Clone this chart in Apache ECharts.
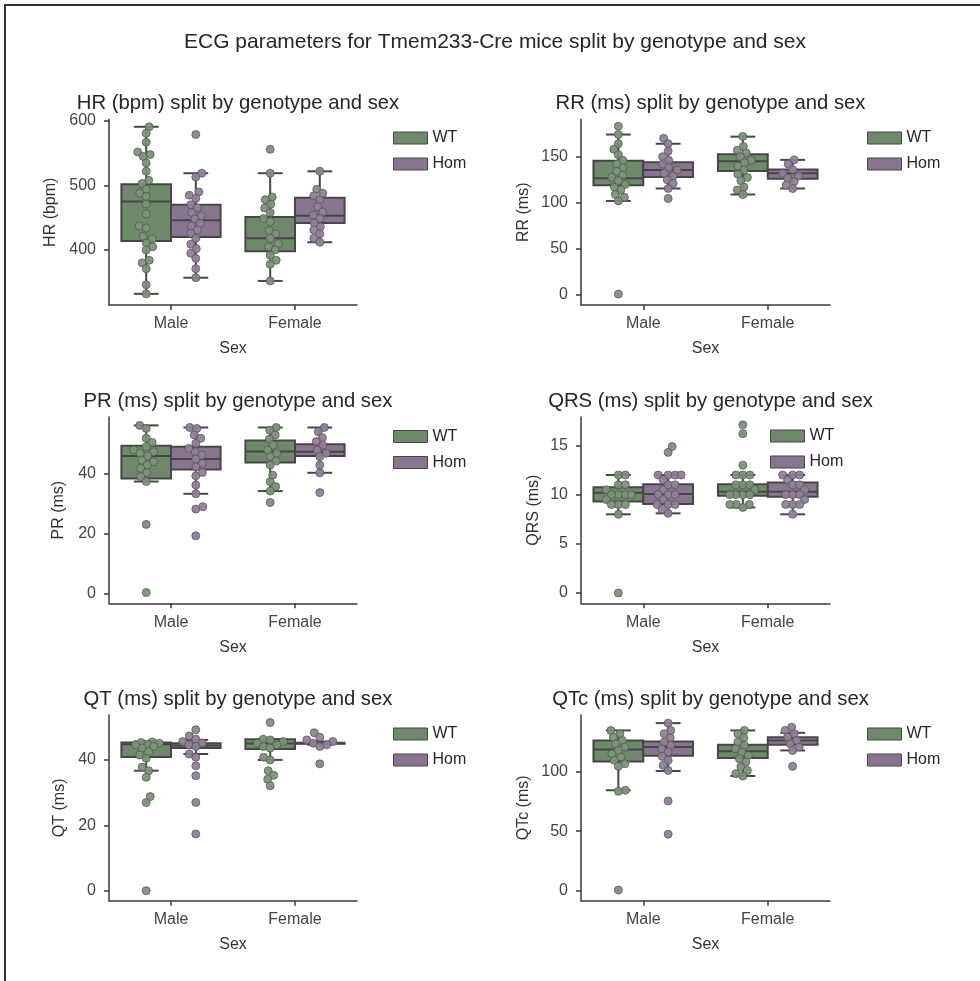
<!DOCTYPE html>
<html>
<head>
<meta charset="utf-8">
<title>ECG parameters for Tmem233-Cre mice</title>
<script src="https://cdn.jsdelivr.net/npm/echarts@6/dist/echarts.min.js"></script>
<style>
  html, body { margin: 0; padding: 0; background: #ffffff; }
  #chart { width: 980px; height: 981px; }
</style>
</head>
<body>
<div id="chart"></div>
<script>
// ---- data -------------------------------------------------------------
const sexes = ['Male', 'Female'];
const genotypes = ['WT', 'Hom'];

// Box statistics per sex: [lower whisker, Q1, median, Q3, upper whisker]
const hrBoxWT  = [[332, 414, 475, 502, 591], [352, 398, 418, 451, 519]];
const hrBoxHom = [[357, 420, 446, 470, 519], [412, 442, 453, 481, 522]];
const hrWT = [
  [591, 581, 567, 552, 548, 545, 535, 522, 508, 503, 494, 488, 483, 471, 456, 437, 434, 421, 417, 411, 405, 400, 384, 380, 371, 346, 332],
  [556, 519, 482, 478, 471, 465, 458, 449, 444, 430, 425, 418, 410, 405, 400, 392, 384, 378, 352]
];
const hrHom = [
  [579, 519, 513, 490, 485, 480, 470, 465, 458, 453, 448, 441, 437, 431, 426, 418, 409, 402, 395, 387, 371, 357],
  [522, 494, 488, 484, 478, 467, 459, 454, 449, 442, 436, 431, 425, 418, 412]
];
const hrTicks = [400, 500, 600];

const rrBoxWT  = [[102, 119, 126.5, 145.7, 174], [109, 134.5, 145, 152.5, 171.7]];
const rrBoxHom = [[115.5, 128, 135.5, 144, 164], [115.5, 126, 132, 136, 146.5]];
const rrWT = [
  [183, 174, 164, 158, 152, 146, 142, 138, 134, 130, 127.5, 124, 120, 117, 114, 109, 106, 102, 1],
  [172, 161, 157, 154, 150, 146, 143.5, 140, 135.5, 131, 127.5, 124, 117, 114, 109]
];
const rrHom = [
  [170, 164, 156, 150, 146, 142, 138, 135.5, 132, 129, 125, 121, 115.5, 104.7],
  [146.5, 142, 136, 132, 129, 126.5, 123, 119, 115.5]
];
const rrTicks = [0, 50, 100, 150];

const prBoxWT  = [[37.3, 38.3, 45.8, 49.2, 56], [34.1, 43.6, 47.3, 51, 55.3]];
const prBoxHom = [[33.2, 41.3, 44.8, 48.9, 55.3], [40.2, 45.8, 47.2, 49.7, 55.3]];
const prWT = [
  [56, 55, 51.7, 50.3, 48.9, 47.8, 47.2, 46.7, 45.8, 44.4, 43.9, 42.8, 41.7, 40.3, 38.9, 37.3, 23, 0.3],
  [55.3, 54.4, 52.8, 51.4, 49.4, 47.8, 46.7, 45.6, 44.1, 42.8, 39.4, 37.2, 35.6, 34.1, 30.3]
];
const prHom = [
  [55.3, 55, 52.8, 51.7, 50, 48.3, 47.2, 46.1, 44.8, 43.3, 42.2, 40.3, 39.2, 36.1, 33.2, 28.9, 28.1, 19.2],
  [55.3, 53.9, 51.9, 50.6, 49.4, 47.8, 46.7, 45.6, 42.8, 40.2, 33.6]
];
const prTicks = [0, 20, 40];

const qrsBoxWT  = [[8, 9.3, 10.2, 10.75, 12], [8.7, 9.9, 10.3, 11.05, 12]];
const qrsBoxHom = [[8.1, 9.05, 10.07, 11.05, 12], [8, 9.8, 10.3, 11.25, 12]];
const qrsWT = [
  [12, 12, 11, 11, 10.5, 10, 10, 10, 10, 9.5, 9, 9, 9, 8, 0],
  [17.1, 16.2, 13, 12, 12, 12, 11, 11, 11, 10.5, 10, 10, 10, 10, 9, 9, 9, 8.7]
];
const qrsHom = [
  [14.9, 14.3, 12, 12, 12, 12, 11.5, 11, 11, 10.5, 10, 10, 10, 9.5, 9, 9, 9, 8.5, 8.1],
  [12, 12, 12, 11.5, 11, 11, 10.5, 10, 10, 10, 9.5, 9, 9, 9, 8]
];
const qrsTicks = [0, 5, 10, 15];

const qtBoxWT  = [[36.7, 40.9, 44.8, 45.3, 45.6], [40, 43.3, 45, 46.3, 46.3]];
const qtBoxHom = [[41.8, 43.6, 44.4, 45.1, 46.1], [44.6, 44.9, 45.1, 45.2, 45.6]];
const qtWT = [
  [45.5, 45.3, 45.1, 44.8, 44.6, 44.1, 43.6, 42.5, 41.5, 40.5, 37.8, 36.7, 34.7, 28.8, 27, 0.1],
  [51.4, 46.3, 46.1, 45.6, 45.1, 44.6, 44.1, 43.6, 40.8, 40, 36.7, 35.3, 34.1, 32.1]
];
const qtHom = [
  [49.2, 47.3, 46.3, 45.6, 45.1, 44.6, 44.1, 41.8, 40.8, 38.2, 35.2, 27, 17.4],
  [48.3, 46.9, 46.1, 45.6, 45.1, 44.6, 44.1, 38.8]
];
const qtTicks = [0, 20, 40];

const qtcBoxWT  = [[84.2, 108.3, 118.3, 125.8, 134.2], [96.1, 111.1, 116.7, 122.2, 134.2]];
const qtcBoxHom = [[100.3, 113, 120.3, 125, 140.3], [117.5, 122.2, 125.8, 128.6, 132.2]];
const qtcWT = [
  [134.2, 131.4, 128.6, 125.8, 123, 120.3, 117.5, 114.7, 111.9, 109.2, 106.4, 104.2, 84.2, 83.3, 0.8],
  [134.2, 131.4, 128, 124.4, 121.7, 118.9, 116.1, 113.3, 110.6, 107.8, 103.6, 100.8, 98.1, 96.1]
];
const qtcHom = [
  [140.3, 134.2, 131.4, 128, 124.4, 121.7, 118.9, 116.1, 112.5, 109.2, 105, 100.8, 75.3, 47.5],
  [136.9, 134.2, 131.4, 128.6, 125.8, 123, 120.3, 117.5, 104.2]
];
const qtcTicks = [0, 50, 100];

const suptitle = 'ECG parameters for Tmem233-Cre mice split by genotype and sex';
const panelNames = ['HR (bpm)', 'RR (ms)', 'PR (ms)', 'QRS (ms)', 'QT (ms)', 'QTc (ms)'];

// ---- layout / style ---------------------------------------------------
const FONT = '"Liberation Sans", Arial, Helvetica, sans-serif';
const COLORS = { WT: '#6f8a6b', Hom: '#8a7591' };
const POINT_COLORS = { WT: '#7a9577', Hom: '#927e9a' };
const EDGE = '#474747';
const AXIS = '#3a3a3a';
const BOX_WIDTH = 0.4;   // in category units
const DODGE = 0.2;

const cols = [{ left: 109, width: 248 }, { left: 581, width: 249 }];
const rows = [{ top: 119.5, height: 185.5 }, { top: 417, height: 186.3 }, { top: 715, height: 185.7 }];

const panels = [
  { name: panelNames[0], box: [hrBoxWT, hrBoxHom],   pts: [hrWT, hrHom],   ticks: hrTicks,  col: 0, row: 0, min: 314.7, max: 602.3, nameGap: 50, legend: [388, 125] },
  { name: panelNames[1], box: [rrBoxWT, rrBoxHom],   pts: [rrWT, rrHom],   ticks: rrTicks,  col: 1, row: 0, min: -10.8, max: 190.3, nameGap: 49, legend: [862, 125] },
  { name: panelNames[2], box: [prBoxWT, prBoxHom],   pts: [prWT, prHom],   ticks: prTicks,  col: 0, row: 1, min: -3.3,  max: 58.8,  nameGap: 42, legend: [388, 423.5] },
  { name: panelNames[3], box: [qrsBoxWT, qrsBoxHom], pts: [qrsWT, qrsHom], ticks: qrsTicks, col: 1, row: 1, min: -1.05, max: 17.9,  nameGap: 39, legend: [765, 423] },
  { name: panelNames[4], box: [qtBoxWT, qtBoxHom],   pts: [qtWT, qtHom],   ticks: qtTicks,  col: 0, row: 2, min: -2.96, max: 53.7,  nameGap: 41, legend: [388, 721] },
  { name: panelNames[5], box: [qtcBoxWT, qtcBoxHom], pts: [qtcWT, qtcHom], ticks: qtcTicks, col: 1, row: 2, min: -8.1,  max: 147.1, nameGap: 49, legend: [862, 721] }
];

// Deterministic swarm layout: horizontal pixel offsets so dots do not pile up.
function swarmOffsets(values, pxPerUnitY, diameter, maxOffset) {
  const order = values.map((v, i) => i).sort((a, b) => values[a] - values[b]);
  const placed = [];
  const offsets = new Array(values.length).fill(0);
  order.forEach((i, n) => {
    const y = values[i] * pxPerUnitY;
    const sign = n % 2 === 0 ? 1 : -1;
    let best = 0, bestDist = -Infinity;
    for (let k = 0; k <= maxOffset * 4; k++) {
      const c = k === 0 ? 0 : sign * (k % 2 ? 1 : -1) * Math.ceil(k / 2) * 0.5;
      let minD = Infinity;
      for (const p of placed) {
        const dy = p.y - y;
        if (Math.abs(dy) >= diameter) continue;
        const d = Math.hypot(p.x - c, dy);
        if (d < minD) minD = d;
      }
      if (minD >= diameter) { best = c; bestDist = minD; break; }
      if (minD > bestDist) { bestDist = minD; best = c; }
    }
    placed.push({ x: best, y: y });
    offsets[i] = best;
  });
  return offsets;
}

function renderBox(params, api) {
  const x = api.value(0);
  const lo = api.coord([x, api.value(1)]);
  const q1 = api.coord([x, api.value(2)]);
  const md = api.coord([x, api.value(3)]);
  const q3 = api.coord([x, api.value(4)]);
  const hi = api.coord([x, api.value(5)]);
  const w = api.size([BOX_WIDTH, 0])[0];
  const cap = w / 4;
  const cx = lo[0];
  const line = { stroke: EDGE, lineWidth: 2 };
  return {
    type: 'group',
    children: [
      { type: 'line', shape: { x1: cx, y1: lo[1], x2: cx, y2: q1[1] }, style: line },
      { type: 'line', shape: { x1: cx, y1: q3[1], x2: cx, y2: hi[1] }, style: line },
      { type: 'line', shape: { x1: cx - cap, y1: lo[1], x2: cx + cap, y2: lo[1] }, style: line },
      { type: 'line', shape: { x1: cx - cap, y1: hi[1], x2: cx + cap, y2: hi[1] }, style: line },
      { type: 'rect', shape: { x: cx - w / 2, y: q3[1], width: w, height: Math.max(q1[1] - q3[1], 0.5) },
        style: { fill: api.visual('color'), stroke: EDGE, lineWidth: 2 } },
      { type: 'line', shape: { x1: cx - w / 2, y1: md[1], x2: cx + w / 2, y2: md[1] }, style: line }
    ]
  };
}

const grids = [], xAxes = [], yAxes = [], series = [], legends = [], titles = [];

titles.push({
  text: suptitle, left: 490, top: 27, textAlign: 'center',
  textStyle: { fontFamily: FONT, fontSize: 21, fontWeight: 'normal', color: '#262626' }
});

panels.forEach((p, i) => {
  const c = cols[p.col], r = rows[p.row];
  grids.push({ left: c.left, top: r.top, width: c.width, height: r.height, containLabel: false });

  titles.push({
    text: p.name + ' split by genotype and sex',
    left: c.left + c.width / 2, top: r.top - 31, textAlign: 'center',
    textStyle: { fontFamily: FONT, fontSize: 20.3, fontWeight: 'normal', color: '#262626' }
  });

  // visible category axis for the sex labels
  xAxes.push({
    type: 'category', gridIndex: i, data: sexes, boundaryGap: true, position: 'bottom',
    axisLine: { show: true, onZero: false, lineStyle: { color: AXIS, width: 1.5 } },
    axisTick: { show: true, alignWithLabel: true, length: 5, lineStyle: { color: AXIS, width: 1.5 } },
    axisLabel: { fontFamily: FONT, fontSize: 16, color: '#444', margin: 11 },
    splitLine: { show: false },
    name: 'Sex', nameLocation: 'middle', nameGap: 36,
    nameTextStyle: { fontFamily: FONT, fontSize: 16, color: '#333' }
  });
  // hidden numeric twin used to place dodged boxes and dots
  xAxes.push({ type: 'value', gridIndex: i, min: -0.5, max: 1.5, show: false,
    axisLine: { onZero: false } });

  yAxes.push({
    type: 'value', gridIndex: i, min: p.min, max: p.max, position: 'left',
    axisLine: { show: true, onZero: false, lineStyle: { color: AXIS, width: 1.5 } },
    axisTick: { show: true, length: 5, customValues: p.ticks, lineStyle: { color: AXIS, width: 1.5 } },
    axisLabel: { fontFamily: FONT, fontSize: 16, color: '#444', margin: 13, customValues: p.ticks },
    splitLine: { show: false },
    name: p.name, nameLocation: 'middle', nameGap: p.nameGap, nameRotate: 90,
    nameTextStyle: { fontFamily: FONT, fontSize: 16, color: '#333' }
  });

  const pxX = c.width / 2;
  const pxY = r.height / (p.max - p.min);

  genotypes.forEach((g, gi) => {
    const off = gi === 0 ? -DODGE : DODGE;
    series.push({
      type: 'custom', name: g, xAxisIndex: 2 * i + 1, yAxisIndex: i,
      itemStyle: { color: COLORS[g] },
      renderItem: renderBox,
      encode: { x: 0, y: [1, 2, 3, 4, 5] },
      data: p.box[gi].map((s, si) => [si + off].concat(s)),
      z: 2, silent: true
    });
  });
  genotypes.forEach((g, gi) => {
    const off = gi === 0 ? -DODGE : DODGE;
    const data = [];
    p.pts[gi].forEach((vals, si) => {
      const sw = swarmOffsets(vals, pxY, 7, 13);
      vals.forEach((v, k) => data.push([si + off + sw[k] / pxX, v]));
    });
    series.push({
      type: 'scatter', name: g, xAxisIndex: 2 * i + 1, yAxisIndex: i,
      symbol: 'circle', symbolSize: 8,
      itemStyle: { color: POINT_COLORS[g], borderColor: '#555555', borderWidth: 0.8, opacity: 0.95 },
      data: data, z: 3, silent: true
    });
  });

  legends.push({
    left: p.legend[0], top: p.legend[1], orient: 'vertical',
    icon: 'rect', itemWidth: 34, itemHeight: 12, itemGap: 10, itemTextGap: 7,
    selectedMode: false,
    textStyle: { fontFamily: FONT, fontSize: 16, color: '#262626' },
    data: genotypes.map(g => ({
      name: g,
      itemStyle: { color: COLORS[g], borderColor: EDGE, borderWidth: 1 }
    }))
  });
});

const chart = echarts.init(document.getElementById('chart'), null, { renderer: 'canvas' });
chart.setOption({
  animation: false,
  backgroundColor: '#ffffff',
  textStyle: { fontFamily: FONT },
  title: titles,
  grid: grids,
  xAxis: xAxes,
  yAxis: yAxes,
  legend: legends,
  series: series,
  graphic: [{
    type: 'polyline',
    shape: { points: [[5, 981], [5, 5], [980, 5]] },
    style: { stroke: '#333', lineWidth: 2, fill: null },
    silent: true
  }]
});
</script>
</body>
</html>
